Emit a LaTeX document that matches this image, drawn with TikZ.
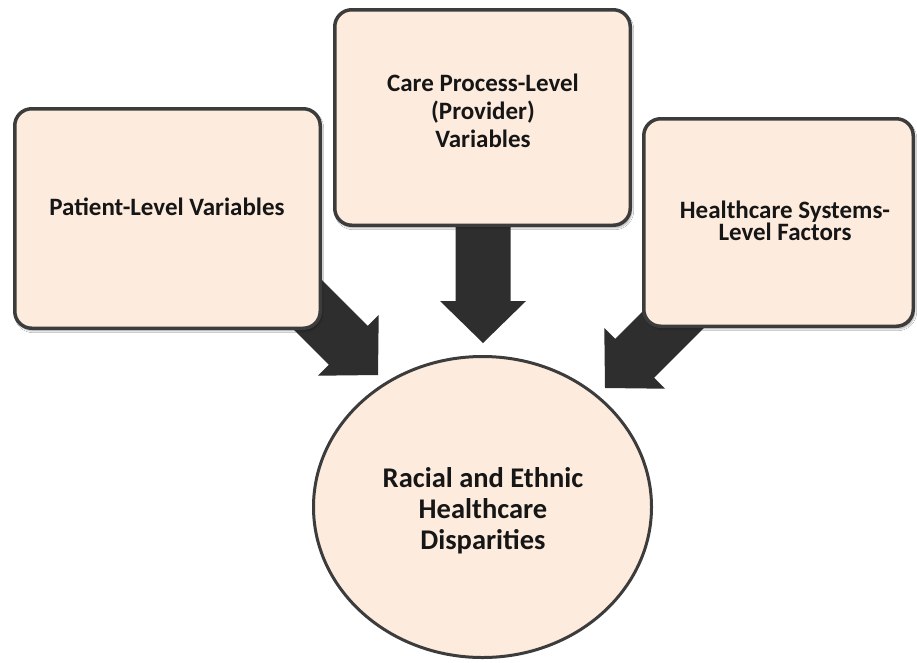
\documentclass[tikz,border=0pt]{standalone}
\usepackage{fontspec}
\setmainfont{Carlito}
\usetikzlibrary{shapes.geometric,calc,shadows.blur}
\definecolor{peach}{RGB}{253,236,222}
\definecolor{edgec}{RGB}{60,60,60}
\definecolor{arrowc}{RGB}{46,46,46}
\definecolor{txtc}{RGB}{22,22,22}
\newcommand\blockarrow[2]{%
  \coordinate (hb) at ($(#2)!42pt!(#1)$);
  \fill[arrowc] ($(#1)!27.5pt!90:(#2)$) -- ($(hb)!27.5pt!90:(#2)$) -- ($(hb)!43pt!90:(#2)$) -- (#2)
    -- ($(hb)!43pt!-90:(#2)$) -- ($(hb)!27.5pt!-90:(#2)$) -- ($(#1)!27.5pt!-90:(#2)$) -- cycle;
}
\tikzset{
  box/.style={draw=edgec, line width=3.5pt, fill=peach, rounded corners=17pt, inner sep=0pt,
    blur shadow={shadow xshift=1.5pt, shadow yshift=-2.5pt, shadow blur steps=6, shadow opacity=35}},
  disc/.style={draw=edgec, line width=3pt, fill=peach, ellipse, inner sep=0pt},
  txt/.style={text=txtc, align=center, font=\bfseries\fontsize{25}{28}\selectfont, inner sep=0pt},
}
\begin{document}
\begin{tikzpicture}[x=1pt,y=-1pt]
\fill[white] (0,0) rectangle (917,662);
\useasboundingbox (0,0) rectangle (917,662);
% arrow ends
\coordinate (s1) at (272,269);
\coordinate (t1) at (378,375);
\coordinate (s2) at (483,200);
\coordinate (t2) at (483,343);
\coordinate (s3) at (711,282);
\coordinate (t3) at (605,388);
\blockarrow{s1}{t1}
\blockarrow{s2}{t2}
\blockarrow{s3}{t3}
% boxes
\node[box, minimum width=305.5pt, minimum height=219.5pt] (pl) at (167.5,218.5) {};
\node[box, minimum width=295.5pt, minimum height=215.5pt] (cp) at (482.5,117.5) {};
\node[box, minimum width=269.5pt, minimum height=207.5pt] (hs) at (778.5,222.5) {};
\node[disc, minimum width=338pt, minimum height=301pt] (rd) at (482.5,507) {};
% texts
\node[txt] (plt) at (167,207) {Patient-Level Variables};
\node[txt] (cpt) at (483,111) {Care Process-Level\\(Provider)\\Variables};
\node[txt, font=\bfseries\fontsize{25}{18}\selectfont] (hst) at (785,221) {Healthcare Systems-\\Level Factors};
\node[txt, font=\bfseries\fontsize{28.5}{31}\selectfont] (rdt) at (483,511) {Racial and Ethnic\\Healthcare\\Disparities};
\end{tikzpicture}
\end{document}
